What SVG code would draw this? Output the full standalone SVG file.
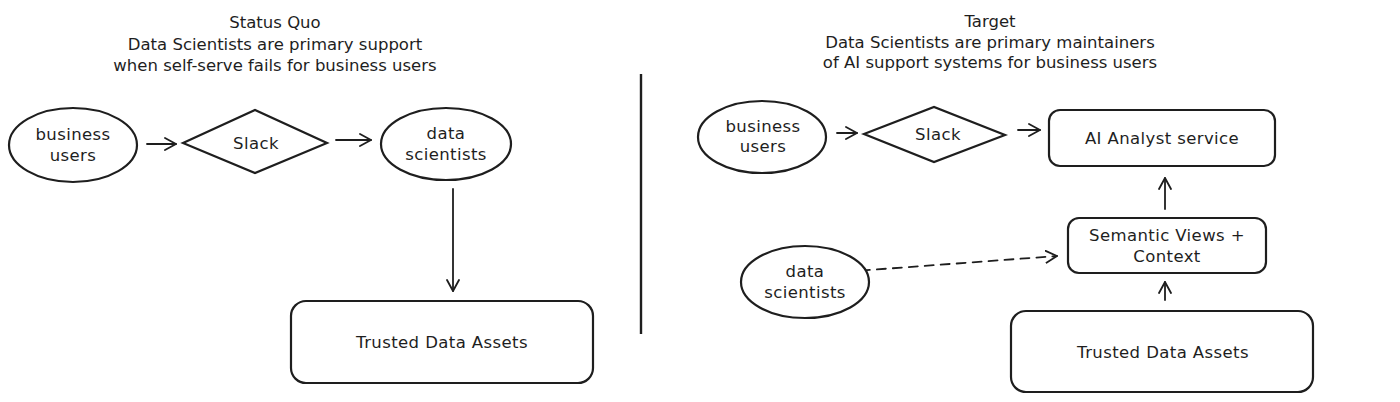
<svg xmlns="http://www.w3.org/2000/svg" width="1400" height="402" viewBox="0 0 1400 402">
<defs>
<style>
text{font-family:"DejaVu Sans","Liberation Sans",sans-serif;font-size:16.5px;fill:#1e1e1e;text-anchor:middle;dominant-baseline:central}
.n{letter-spacing:0.4px}
.s{fill:#fff;stroke:#1e1e1e;stroke-width:2.2}
.c{fill:none;stroke:#1e1e1e;stroke-width:1.8;stroke-linecap:round}
.d{stroke-dasharray:9 7}
</style>
<marker id="a" markerWidth="14" markerHeight="14" refX="12" refY="7" orient="auto" markerUnits="userSpaceOnUse">
<path d="M1,1 L12,7 L1,13" fill="none" stroke="#1e1e1e" stroke-width="1.8" stroke-linecap="round" stroke-linejoin="round"/>
</marker>
</defs>
<rect width="1400" height="402" fill="#fff"/>
<g id="title-left">
<text x="275" y="22">Status Quo</text>
<text x="275" y="44">Data Scientists are primary support</text>
<text x="275" y="65">when self-serve fails for business users</text>
</g>
<g id="title-right">
<text x="990" y="21">Target</text>
<text x="990" y="42">Data Scientists are primary maintainers</text>
<text x="990" y="62">of AI support systems for business users</text>
</g>
<g id="divider"><line x1="641" y1="74" x2="641" y2="334" stroke="#1e1e1e" stroke-width="2.4"/></g>
<g id="connectors">
<line class="c" x1="147" y1="144" x2="176" y2="144" marker-end="url(#a)"/>
<line class="c" x1="336" y1="140" x2="371" y2="140" marker-end="url(#a)"/>
<line class="c" x1="453" y1="189" x2="453" y2="291" marker-end="url(#a)"/>
<line class="c" x1="837" y1="133" x2="857" y2="133" marker-end="url(#a)"/>
<line class="c" x1="1018" y1="130" x2="1040" y2="130" marker-end="url(#a)"/>
<line class="c" x1="1165" y1="209" x2="1165" y2="178" marker-end="url(#a)"/>
<line class="c" x1="1165" y1="300" x2="1165" y2="282" marker-end="url(#a)"/>
<line class="c d" x1="829" y1="273" x2="1057" y2="256" marker-end="url(#a)"/>
</g>
<g id="left-business-users" class="n">
<ellipse class="s" cx="73" cy="145" rx="64" ry="37"/>
<text x="73" y="134">business</text><text x="73" y="155">users</text>
</g>
<g id="left-slack" class="n">
<polygon class="s" points="183,143 255,110 327,143 255,173"/>
<text x="256" y="143">Slack</text>
</g>
<g id="left-data-scientists" class="n">
<ellipse class="s" cx="446" cy="144" rx="65" ry="36"/>
<text x="446" y="133">data</text><text x="446" y="154">scientists</text>
</g>
<g id="left-trusted" class="n">
<rect class="s" x="291" y="301" width="302" height="82" rx="15"/>
<text x="442" y="342">Trusted Data Assets</text>
</g>
<g id="right-business-users" class="n">
<ellipse class="s" cx="762" cy="137" rx="64" ry="36"/>
<text x="763" y="126">business</text><text x="763" y="146">users</text>
</g>
<g id="right-slack" class="n">
<polygon class="s" points="864,134 934,107 1005,135 934,162"/>
<text x="938" y="134">Slack</text>
</g>
<g id="right-ai-analyst" class="n">
<rect class="s" x="1049" y="110" width="226" height="56" rx="11"/>
<text x="1162" y="138">AI Analyst service</text>
</g>
<g id="right-semantic" class="n">
<rect class="s" x="1068" y="218" width="198" height="55" rx="11"/>
<text x="1167" y="235">Semantic Views +</text><text x="1167" y="256">Context</text>
</g>
<g id="right-data-scientists" class="n">
<ellipse class="s" cx="805" cy="282" rx="64" ry="36"/>
<text x="805" y="271">data</text><text x="805" y="292">scientists</text>
</g>
<g id="right-trusted" class="n">
<rect class="s" x="1011" y="311" width="302" height="81" rx="15"/>
<text x="1163" y="352">Trusted Data Assets</text>
</g>
</svg>
